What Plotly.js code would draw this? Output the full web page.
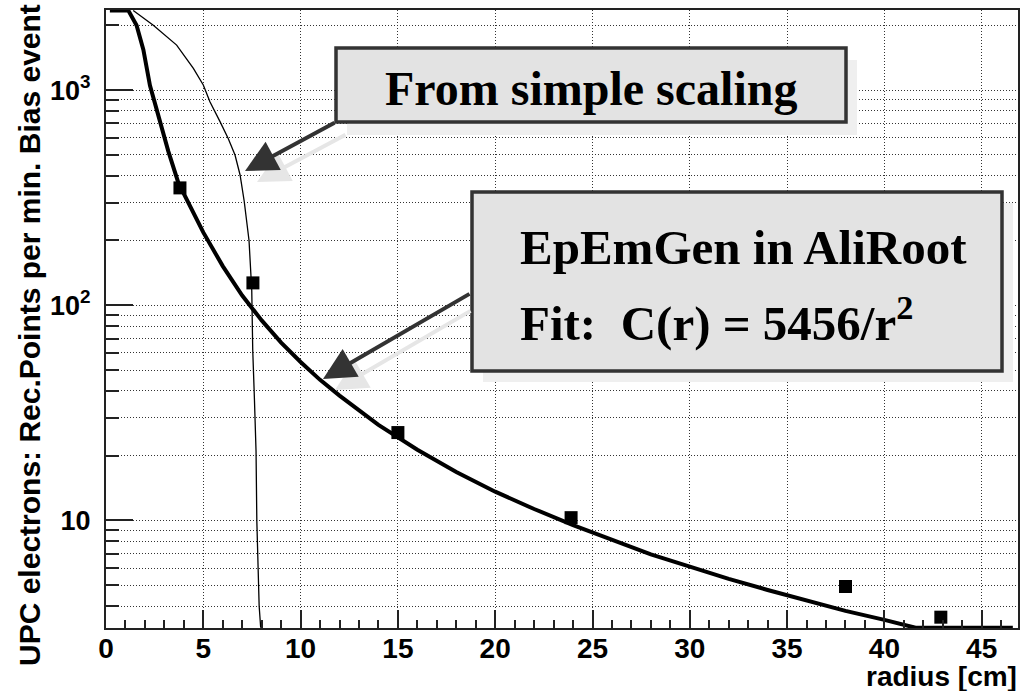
<!DOCTYPE html>
<html><head><meta charset="utf-8">
<script src="https://cdn.plot.ly/plotly-3.0.1.min.js"></script>
<style>html,body{margin:0;padding:0;background:#fff}#chart{width:1020px;height:691px}</style>
</head><body><div id="chart"></div>
<script>
// ---- data ----
const fitRadius = [0.2, 1.15, 1.57, 1.92, 2.26, 2.77, 3.2, 3.72, 4.5, 5, 6, 7, 8, 9, 10, 11, 12, 13, 14, 16, 18, 20, 22, 24, 26, 28, 30, 32, 34, 36, 38, 40, 41.6, 46.6];
const fitCounts = [2340, 2340, 2000, 1540, 1050, 713, 520, 370, 270, 218, 152, 111, 85, 67, 54.5, 45, 38, 32.3, 27.8, 21.3, 16.8, 13.6, 11.3, 9.5, 8.1, 6.95, 6.1, 5.35, 4.75, 4.25, 3.8, 3.45, 3.17, 3.17];
const scalingRadius = [1.4, 2.43, 3.63, 4.49, 5.0, 5.34, 5.86, 6.28, 6.63, 6.89, 7.1, 7.35, 7.49, 7.54, 7.63, 7.71, 7.75, 7.87, 7.95];
const scalingCounts = [2340, 2000, 1618, 1262, 1055, 883, 713, 595, 499, 403, 305, 200, 117, 62, 36, 21, 10, 4, 3.17];
const measRadius = [3.8, 7.55, 15, 23.9, 38, 42.9];
const measCounts = [351, 127, 25.6, 10.3, 4.93, 3.55];
const xTickVals = [0, 5, 10, 15, 20, 25, 30, 35, 40, 45];
const xTickText = ['0', '5', '10', '15', '20', '25', '30', '35', '40', '45'];
const yTickVals = [10, 100, 1000];
const yTickText = ['10', '10<sup>2</sup>', '10<sup>3</sup>'];
const yMinorVals = [4, 5, 6, 7, 8, 9, 20, 30, 40, 50, 60, 70, 80, 90, 200, 300, 400, 500, 600, 700, 800, 900, 2000];
const labelScaling = 'From simple scaling';
const labelFitLine1 = 'EpEmGen in AliRoot';
const labelFitLine2 = 'Fit:\u00a0\u00a0C(r) = 5456/r<sup>2</sup>';
const yTitle = 'UPC electrons: Rec.Points per min. Bias event';
const xTitle = 'radius [cm]';

// ---- layout helpers (pixel -> paper) ----
const L = 106, R = 1018, T = 10, B = 628;
const px = v => (v - L) / (R - L);
const py = v => (B - v) / (B - T);

const sans = 'Liberation Sans, Arial, sans-serif';
const serif = 'Liberation Serif, Times New Roman, serif';
const dots = '1px,2px';

const traces = [
  {x: fitRadius, y: fitCounts, type: 'scatter', mode: 'lines', line: {color: '#000', width: 4}, hoverinfo: 'skip'},
  {x: scalingRadius, y: scalingCounts, type: 'scatter', mode: 'lines', line: {color: '#000', width: 1.3}, hoverinfo: 'skip'},
  {x: measRadius, y: measCounts, type: 'scatter', mode: 'markers', marker: {symbol: 'square', size: 13, color: '#000'}, hoverinfo: 'skip'}
];

function rect(x0, y0, x1, y1, fill, line) {
  return {type: 'rect', xref: 'paper', yref: 'paper', layer: 'above',
    x0: px(x0), x1: px(x1), y0: py(y1), y1: py(y0), fillcolor: fill,
    line: line || {width: 0}};
}
function arrow(tipX, tipY, tailX, tailY, color) {
  return {xref: 'paper', yref: 'paper', x: px(tipX), y: py(tipY), ax: tailX - tipX, ay: tailY - tipY,
    text: '', showarrow: true, arrowhead: 2, arrowsize: 1.6, arrowwidth: 4, arrowcolor: color, standoff: 0, startstandoff: 0};
}

const layout = {
  width: 1020, height: 691,
  margin: {l: L, r: 1020 - R, t: T, b: 691 - B, pad: 0},
  paper_bgcolor: '#fff', plot_bgcolor: '#fff',
  showlegend: false,
  xaxis: {
    range: [0, (R - L) / 19.46], tickmode: 'array', tickvals: xTickVals, ticktext: xTickText,
    ticks: 'inside', ticklen: 18, tickwidth: 2, tickcolor: '#222',
    minor: {dtick: 1, tick0: 0, ticks: 'inside', ticklen: 8, tickwidth: 2, tickcolor: '#222', showgrid: false},
    showgrid: true, gridcolor: '#333', gridwidth: 1, griddash: dots,
    showline: true, linecolor: '#222', linewidth: 2, mirror: true, zeroline: false,
    tickfont: {family: sans, size: 28, color: '#000', weight: 'bold'}, ticklabelstandoff: -6
  },
  yaxis: {
    type: 'log', range: [0.5, 3.372], tickmode: 'array', tickvals: yTickVals, ticktext: yTickText,
    ticks: 'inside', ticklen: 27, tickwidth: 2, tickcolor: '#222',
    minor: {tickmode: 'array', tickvals: yMinorVals, ticks: 'inside', ticklen: 13, tickwidth: 2, tickcolor: '#222',
      showgrid: true, gridcolor: '#333', gridwidth: 1, griddash: dots},
    showgrid: true, gridcolor: '#333', gridwidth: 1, griddash: dots,
    showline: true, linecolor: '#222', linewidth: 2, mirror: true, zeroline: false,
    tickfont: {family: sans, size: 27, color: '#000', weight: 'bold'}, ticklabelstandoff: 8
  },
  shapes: [
    rect(347, 60, 857, 135, '#efefef'),
    rect(336, 48, 846, 122, '#e3e3e3', {color: '#333', width: 3.5}),
    rect(483, 203, 1013, 382, '#efefef'),
    rect(472, 192, 1002, 371, '#e3e3e3', {color: '#333', width: 3.5})
  ],
  annotations: [
    arrow(257, 182, 347, 134, '#e6e6e6'),
    arrow(335, 390, 472, 310, '#e6e6e6'),
    arrow(245, 171, 336, 122, '#333'),
    arrow(323, 379, 471, 293, '#333'),
    {xref: 'paper', yref: 'paper', x: px(591), y: py(89), xanchor: 'center', yanchor: 'middle', showarrow: false,
      text: labelScaling, font: {family: serif, size: 48, color: '#000', weight: 'bold'}},
    {xref: 'paper', yref: 'paper', x: px(518), y: py(247), xanchor: 'left', yanchor: 'middle', showarrow: false,
      text: labelFitLine1, font: {family: serif, size: 49, color: '#000', weight: 'bold'}},
    {xref: 'paper', yref: 'paper', x: px(518), y: py(320), xanchor: 'left', yanchor: 'middle', showarrow: false,
      text: labelFitLine2, font: {family: serif, size: 49, color: '#000', weight: 'bold'}},
    {xref: 'paper', yref: 'paper', x: px(29), y: py(335), xanchor: 'center', yanchor: 'middle', showarrow: false,
      textangle: -90, text: yTitle, font: {family: sans, size: 30, color: '#000', weight: 'bold'}},
    {xref: 'paper', yref: 'paper', x: px(1019), y: py(676), xanchor: 'right', yanchor: 'middle', showarrow: false,
      text: xTitle, font: {family: sans, size: 28, color: '#000', weight: 'bold'}}
  ]
};

Plotly.newPlot('chart', traces, layout, {displayModeBar: false, staticPlot: true});
</script>
</body></html>
